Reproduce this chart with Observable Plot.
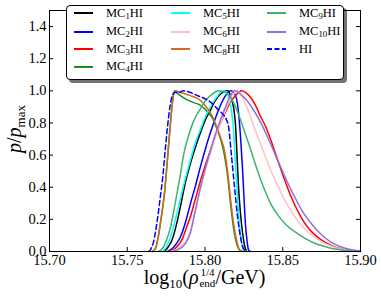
<!DOCTYPE html>
<html><head><meta charset="utf-8">
<script src="https://cdn.jsdelivr.net/npm/d3@7"></script>
<script src="https://cdn.jsdelivr.net/npm/@observablehq/plot@0.6"></script>
<style>
body{margin:0;background:#fff;}
#wrap{position:relative;width:381px;height:305px;font-family:"Liberation Serif",serif;color:#000;}
#legend{position:absolute;left:66px;top:5px;width:276px;height:73px;border:1px solid #000;border-radius:4px;background:#fff;box-shadow:3px 3px 0 rgba(0,0,0,0.55);}
.entry{position:absolute;height:14px;display:flex;align-items:center;font-size:12.5px;white-space:nowrap;}
.entry svg{margin-right:13px;flex:none;}
.entry sub{font-size:70%;vertical-align:-0.25em;line-height:0;}
#xlabel{position:absolute;left:49px;width:311px;top:266px;text-align:center;font-size:20px;line-height:22px;white-space:nowrap;}
#xlabel sub{font-size:65%;vertical-align:-0.3em;line-height:0;}
.ss{display:inline-flex;flex-direction:column;vertical-align:middle;font-size:11px;line-height:11px;margin-left:1px;position:relative;top:-1px;}
</style>
</head><body>
<div id="wrap"><div id="legend"></div><div id="xlabel">log<sub>10</sub>(<i>ρ</i><span class="ss"><span>1/4</span><span>end</span></span>/GeV)</div></div>
<script>
// ---- data ----
const xTicks = [15.70, 15.75, 15.80, 15.85, 15.90];
const yTicks = [0.0, 0.2, 0.4, 0.6, 0.8, 1.0, 1.2, 1.4];

const seriesNames = ["MC1HI","MC2HI","MC3HI","MC4HI","MC5HI","MC6HI","MC8HI","MC9HI","MC10HI","HI"];
const seriesSubs  = ["1","2","3","4","5","6","8","9","10",""];
const seriesColors = ["#000000","#0000ff","#ff0000","#1a8f1a","#00ffff","#ffc0cb","#d2691e","#3cb371","#9370db","#0000ff"];

const mc1X = [15.7739,15.7765,15.7791,15.7817,15.7842,15.7874,15.7907,15.7939,15.7971,15.8003,15.8035,15.8067,15.8100,15.8132,15.8145,15.8164,15.8183,15.8196,15.8206,15.8215,15.8228,15.8241,15.8254,15.8267];
const mc1Y = [0,0.03,0.08,0.17,0.28,0.43,0.55,0.65,0.74,0.82,0.88,0.94,0.98,1.0,1.0,0.97,0.9,0.79,0.6,0.41,0.24,0.12,0.04,0];

const mc2X = [15.7759,15.7791,15.7817,15.7842,15.7874,15.7907,15.7939,15.7971,15.8003,15.8035,15.8067,15.8100,15.8132,15.8164,15.8183,15.8203,15.8215,15.8228,15.8241,15.8251,15.8260,15.8270,15.8280,15.8292];
const mc2Y = [0,0.02,0.05,0.09,0.18,0.3,0.41,0.53,0.64,0.74,0.83,0.91,0.97,1.0,0.99,0.95,0.87,0.72,0.52,0.33,0.17,0.07,0.01,0];

const mc3X = [15.7765,15.7797,15.7829,15.7855,15.7881,15.7907,15.7939,15.7971,15.8003,15.8035,15.8067,15.8100,15.8132,15.8164,15.8196,15.8235,15.8260,15.8292,15.8325,15.8357,15.8389,15.8421,15.8453,15.8485,15.8518,15.8550,15.8582,15.8614,15.8646,15.8678,15.8711,15.8743,15.8807,15.8871,15.8935,15.9000];
const mc3Y = [0,0.01,0.04,0.08,0.15,0.22,0.33,0.44,0.54,0.63,0.72,0.8,0.87,0.93,0.97,1.0,0.99,0.96,0.91,0.84,0.78,0.7,0.61,0.52,0.43,0.35,0.28,0.22,0.17,0.13,0.1,0.075,0.04,0.018,0.007,0.002];

const mc4X = [15.7662,15.7682,15.7701,15.7720,15.7739,15.7759,15.7778,15.7791,15.7804,15.7829,15.7874,15.7919,15.7971,15.8016,15.8048,15.8074,15.8100,15.8125,15.8145,15.8164,15.8183,15.8203,15.8222,15.8241];
const mc4Y = [0,0.02,0.1,0.22,0.36,0.58,0.8,0.93,1.0,0.98,0.95,0.93,0.91,0.87,0.83,0.77,0.7,0.6,0.47,0.3,0.15,0.05,0.01,0];

const mc5X = [15.7727,15.7752,15.7778,15.7810,15.7842,15.7862,15.7907,15.7939,15.7971,15.8003,15.8035,15.8067,15.8100,15.8125,15.8151,15.8170,15.8183,15.8196,15.8209,15.8222,15.8235,15.8247,15.8260];
const mc5Y = [0,0.03,0.09,0.2,0.33,0.41,0.57,0.68,0.76,0.84,0.9,0.95,0.99,1.0,0.96,0.88,0.76,0.55,0.33,0.16,0.06,0.01,0];

const mc6X = [15.7778,15.7810,15.7842,15.7874,15.7907,15.7939,15.7971,15.8003,15.8035,15.8067,15.8100,15.8132,15.8164,15.8209,15.8228,15.8260,15.8292,15.8325,15.8357,15.8389,15.8421,15.8473,15.8518,15.8550,15.8582,15.8614,15.8678,15.8743,15.8807,15.8871,15.8935,15.9000];
const mc6Y = [0,0.01,0.03,0.06,0.13,0.26,0.39,0.51,0.61,0.71,0.8,0.88,0.95,1.0,0.98,0.92,0.84,0.75,0.67,0.59,0.51,0.4,0.31,0.26,0.21,0.17,0.11,0.065,0.035,0.015,0.006,0.002];

const mc8X = [15.7662,15.7682,15.7701,15.7720,15.7739,15.7759,15.7778,15.7791,15.7810,15.7842,15.7907,15.7971,15.8016,15.8048,15.8074,15.8100,15.8125,15.8145,15.8164,15.8183,15.8203,15.8222,15.8241];
const mc8Y = [0,0.02,0.1,0.22,0.36,0.58,0.8,0.93,1.0,0.99,0.97,0.94,0.89,0.84,0.78,0.71,0.63,0.5,0.33,0.18,0.07,0.01,0];

const mc9X = [15.7701,15.7727,15.7752,15.7778,15.7810,15.7842,15.7862,15.7894,15.7926,15.7971,15.8003,15.8035,15.8087,15.8132,15.8164,15.8196,15.8228,15.8260,15.8292,15.8325,15.8357,15.8389,15.8421,15.8473,15.8518,15.8582,15.8646,15.8710,15.8775,15.8839,15.8903,15.9000];
const mc9Y = [0,0.02,0.07,0.15,0.31,0.48,0.6,0.72,0.81,0.89,0.94,0.97,1.0,0.99,0.96,0.9,0.82,0.73,0.64,0.54,0.45,0.37,0.3,0.22,0.17,0.12,0.08,0.05,0.03,0.015,0.006,0];

const mc10X = [15.7791,15.7823,15.7855,15.7881,15.7907,15.7939,15.7971,15.8003,15.8035,15.8067,15.8100,15.8132,15.8164,15.8190,15.8228,15.8260,15.8292,15.8337,15.8370,15.8408,15.8453,15.8498,15.8550,15.8582,15.8614,15.8678,15.8743,15.8807,15.8871,15.8935,15.9000];
const mc10Y = [0,0.01,0.03,0.06,0.12,0.26,0.4,0.52,0.63,0.73,0.82,0.9,0.97,1.0,0.98,0.95,0.91,0.84,0.78,0.7,0.6,0.5,0.39,0.33,0.27,0.18,0.11,0.06,0.03,0.012,0.004];

const hiX = [15.7637,15.7649,15.7669,15.7694,15.7714,15.7727,15.7746,15.7765,15.7784,15.7804,15.7829,15.7862,15.7907,15.7952,15.8003,15.8048,15.8087,15.8119,15.8138,15.8151,15.8170,15.8190,15.8209,15.8228,15.8247,15.8267];
const hiY = [0,0.01,0.06,0.2,0.35,0.45,0.65,0.83,0.95,0.99,0.99,1.0,0.99,0.97,0.95,0.92,0.88,0.85,0.82,0.78,0.6,0.4,0.22,0.09,0.02,0];

const seriesX = [mc1X, mc2X, mc3X, mc4X, mc5X, mc6X, mc8X, mc9X, mc10X, hiX];
const seriesY = [mc1Y, mc2Y, mc3Y, mc4Y, mc5Y, mc6Y, mc8Y, mc9Y, mc10Y, hiY];

// ---- chart ----
const lineMarks = seriesNames.map((name, i) => {
  const rows = seriesX[i].map((x, j) => ({x, y: seriesY[i][j]}));
  return Plot.line(rows, {
    x: "x", y: "y", stroke: seriesColors[i], strokeWidth: 1.5,
    curve: "monotone-x",
    strokeDasharray: name === "HI" ? "5,3" : null
  });
});

const chart = Plot.plot({
  width: 381, height: 305,
  marginLeft: 49, marginRight: 21, marginTop: 10, marginBottom: 54,
  style: {fontFamily: "'Liberation Serif', serif", fontSize: "14.5px", background: "#fff", color: "#000", overflow: "visible"},
  x: {domain: [15.70, 15.90]},
  y: {domain: [0, 1.5]},
  marks: [
    ...lineMarks,
    Plot.axisX(xTicks, {tickSize: 0, tickPadding: 3, label: null, tickFormat: d3.format(".2f")}),
    Plot.axisY(yTicks, {tickSize: 0, tickPadding: 3, label: null, tickFormat: d3.format(".1f")}),
    Plot.tickX(xTicks, {x: d => d, insetTop: 237, stroke: "#000"}),
    Plot.tickX(xTicks, {x: d => d, insetBottom: 237, stroke: "#000"}),
    Plot.tickY(yTicks, {y: d => d, insetRight: 307, stroke: "#000"}),
    Plot.tickY(yTicks, {y: d => d, insetLeft: 307, stroke: "#000"}),
    Plot.frame({stroke: "#000"})
  ]
});

// y label
const yl = d3.select(chart).append("text")
  .attr("transform", "translate(21,129) rotate(-90)")
  .attr("text-anchor", "middle")
  .attr("font-family", "'Liberation Serif', serif")
  .attr("font-size", 20)
  .attr("fill", "#000");
yl.append("tspan").attr("font-style", "italic").text("p");
yl.append("tspan").text("/");
yl.append("tspan").attr("font-style", "italic").text("p");
yl.append("tspan").attr("font-size", 13).attr("dy", 4).text("max");

const wrap = document.getElementById("wrap");
wrap.insertBefore(chart, wrap.firstChild);

// legend
const legend = document.getElementById("legend");
const colLeft = [7, 104, 200];
const rowTop = [0, 18.5, 36, 53.5];
const colSizes = [4, 3, 3];
let idx = 0;
colSizes.forEach((n, c) => {
  for (let r = 0; r < n; r++, idx++) {
    const i = idx;
    const e = document.createElement("div");
    e.className = "entry";
    e.style.left = colLeft[c] + "px";
    e.style.top = rowTop[r] + "px";
    const dash = seriesNames[i] === "HI" ? ' stroke-dasharray="5,2.5"' : "";
    const base = seriesNames[i].replace(seriesSubs[i] + "HI", "");
    const label = seriesSubs[i] ? `${base}<sub>${seriesSubs[i]}</sub>HI` : seriesNames[i];
    e.innerHTML = `<svg width="19" height="4"><line x1="0" y1="2" x2="19" y2="2" stroke="${seriesColors[i]}" stroke-width="2"${dash}/></svg><span>${label}</span>`;
    legend.appendChild(e);
  }
});
</script>
</body></html>
